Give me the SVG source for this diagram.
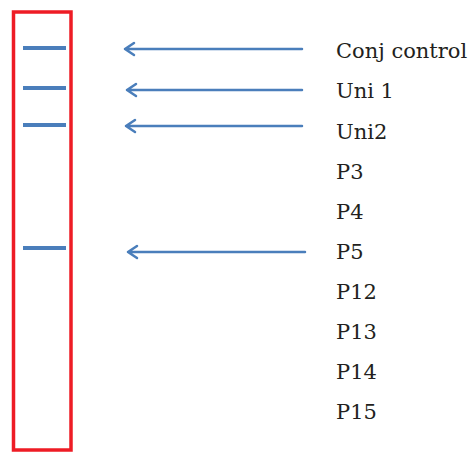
<svg xmlns="http://www.w3.org/2000/svg" width="472" height="453" viewBox="0 0 472 453">
<style>
.lane{fill:none;stroke:#EE1C25;stroke-width:3.5}
.band{stroke:#4A7EBB;stroke-width:4}
.arr{stroke:#4A7EBB;stroke-width:2.5;fill:none;stroke-linecap:round;stroke-linejoin:round}
.lbl{font-family:"DejaVu Serif","Liberation Serif",serif;font-size:21px;fill:#231F20}
</style>
<rect width="472" height="453" fill="#fff"/>
<g id="lane">
<rect class="lane" x="13.5" y="12" width="57.5" height="438"/>
<line class="band" x1="23" y1="48" x2="66" y2="48"/>
<line class="band" x1="23" y1="88" x2="66" y2="88"/>
<line class="band" x1="23" y1="125" x2="66" y2="125"/>
<line class="band" x1="23" y1="248" x2="66" y2="248"/>
</g>
<g id="connectors">
<path class="arr" d="M302 49H125M134 43L125 49L134 55"/>
<path class="arr" d="M302 90H127M136 84L127 90L136 96"/>
<path class="arr" d="M302 126H126M135 120L126 126L135 132"/>
<path class="arr" d="M305 252H128M137 246L128 252L137 258"/>
</g>
<g id="labels">
<text class="lbl" x="336" y="58">Conj control</text>
<text class="lbl" x="336" y="98">Uni 1</text>
<text class="lbl" x="336" y="139">Uni2</text>
<text class="lbl" x="336" y="179">P3</text>
<text class="lbl" x="336" y="219">P4</text>
<text class="lbl" x="336" y="259">P5</text>
<text class="lbl" x="336" y="299">P12</text>
<text class="lbl" x="336" y="339">P13</text>
<text class="lbl" x="336" y="379">P14</text>
<text class="lbl" x="336" y="419">P15</text>
</g>
</svg>
